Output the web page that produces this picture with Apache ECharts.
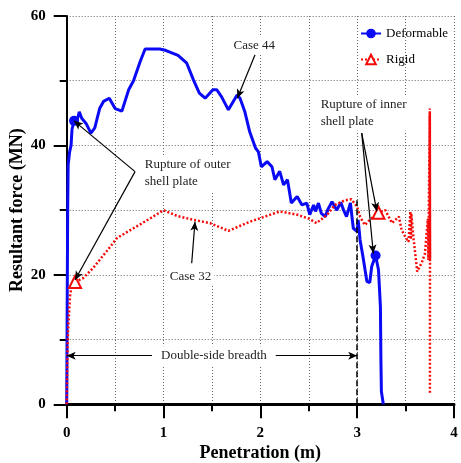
<!DOCTYPE html>
<html>
<head>
<meta charset="utf-8">
<script src="https://cdn.jsdelivr.net/npm/echarts@6/dist/echarts.min.js"></script>
<style>html,body{margin:0;padding:0;background:#fff;}#c{width:461px;height:463px;}</style>
</head>
<body>
<div id="c"></div>
<script>
// ---- data (penetration m, resultant force MN) ----
var deformable = [
[0,0],[0.005,15],[0.01,30],[0.015,37],[0.03,39],[0.045,40],[0.055,42.5],[0.076,43.8],[0.1,43.5],[0.13,45.2],[0.155,44.2],[0.2,43.4],[0.25,41.9],[0.29,42.7],[0.34,45.7],[0.38,46.8],[0.44,47.3],[0.5,45.7],[0.57,45.3],[0.64,48.6],[0.69,50.0],[0.76,53.0],[0.81,54.9],[0.96,54.9],[1.02,54.7],[1.15,53.9],[1.24,52.7],[1.31,50.1],[1.37,48.1],[1.43,47.3],[1.51,48.6],[1.55,48.6],[1.60,47.5],[1.67,45.5],[1.76,47.8],[1.79,47.3],[1.84,45.2],[1.89,42.1],[1.95,39.6],[1.98,39.0],[2.01,36.7],[2.07,37.5],[2.12,36.7],[2.15,34.7],[2.20,36.0],[2.24,33.9],[2.28,34.7],[2.32,31.1],[2.38,32.1],[2.43,30.8],[2.48,31.1],[2.51,29.3],[2.55,30.8],[2.57,29.8],[2.60,31.1],[2.63,29.5],[2.67,29.0],[2.70,30.2],[2.74,31.3],[2.79,30.0],[2.83,31.2],[2.86,30.0],[2.89,29.0],[2.93,31.1],[2.96,27.2],[3.0,26.7],[3.01,28.5],[3.03,25.4],[3.06,22.8],[3.10,19.0],[3.13,18.8],[3.15,21.3],[3.19,23.0],[3.22,20.8],[3.24,15.1],[3.245,7],[3.25,2],[3.27,0]
];
var deformableMarkers = [7, 72]; // indices of rupture points
var rigid = [
[0,0],[0.005,5],[0.01,9.7],[0.02,13],[0.034,16.6],[0.05,18.4],[0.086,18.9],[0.17,19.5],[0.27,21.0],[0.41,23.6],[0.52,25.7],[0.69,27.2],[0.86,28.7],[1.0,30.0],[1.14,29.1],[1.31,28.5],[1.48,28.0],[1.67,26.8],[1.89,28.2],[2.20,29.8],[2.38,29.3],[2.50,28.7],[2.58,28.0],[2.69,29.3],[2.77,30.8],[2.87,31.5],[2.94,31.7],[3.0,30.5],[3.03,29.0],[3.08,27.7],[3.13,28.5],[3.22,29.6],[3.29,30.0],[3.36,28.0],[3.43,29.0],[3.46,26.9],[3.50,25.8],[3.53,25.1],[3.55,29.8],[3.555,25.5],[3.56,29.4],[3.58,25.9],[3.62,20.5],[3.67,22.0],[3.70,23.3],[3.73,28.7],[3.735,22.3],[3.75,45.7],[3.752,22],[3.748,44.5],[3.753,22.5],[3.749,43],[3.751,22],[3.75,45],[3.752,23],[3.749,40],[3.751,22.2],[3.7505,44],[3.752,22],[3.751,1.7]
];
var rigidMarkers = [6, 31];
var xTicks = [0, 1, 2, 3, 4];
var yTicks = [0, 20, 40, 60];
var legendNames = ['Deformable', 'Rigid'];

// annotations in data coordinates
var annoTexts = [
  {text: 'Case 44', x: 1.938, y: 55.5, align: 'center'},
  {text: 'Rupture of inner\nshell plate', x: 2.592, y: 45.0, align: 'left'},
  {text: 'Rupture of outer\nshell plate', x: 0.775, y: 35.7, align: 'left'},
  {text: 'Case 32', x: 1.279, y: 19.72, align: 'center'},
  {text: 'Double-side breadth', x: 1.52, y: 7.51, align: 'center'}
];
var annoArrows = [
  [[1.945, 54.0], [1.762, 47.3]],
  [[3.047, 41.9], [3.203, 29.8]],
  [[3.047, 41.9], [3.167, 23.3]],
  [[0.706, 35.95], [0.075, 43.8]],
  [[0.706, 35.95], [0.086, 19.2]],
  [[1.291, 21.8], [1.325, 28.2]],
  [[0.881, 7.51], [0.0, 7.51]],
  [[2.159, 7.51], [3.0, 7.51]]
];
var breadthLine = [[3.0, 0], [3.0, 32]];

function withMarkers(arr, idx) {
  return arr.map(function (p, i) {
    return idx.indexOf(i) >= 0 ? {value: p} : {value: p, symbol: 'none'};
  });
}

var FONT = 'Liberation Serif, Times New Roman, serif';
var chart = echarts.init(document.getElementById('c'), null, {renderer: 'canvas'});
var gridLine = {show: true, lineStyle: {color: '#666', type: [1, 2], width: 1}};

var option = {
  animation: false,
  backgroundColor: '#fff',
  grid: {left: 66.7, right: 7, top: 16, bottom: 58.7, containLabel: false, outerBoundsMode: 'none'},
  legend: {
    orient: 'vertical', left: 355, top: 22,
    itemWidth: 20, itemHeight: 12, itemGap: 13,
    textStyle: {fontFamily: FONT, fontSize: 13, color: '#000'},
    data: legendNames
  },
  xAxis: {
    type: 'value', min: xTicks[0], max: xTicks[xTicks.length - 1], interval: 1,
    name: 'Penetration (m)', nameLocation: 'middle', nameGap: 40, nameMoveOverlap: false,
    nameTextStyle: {fontFamily: FONT, fontWeight: 'bold', fontSize: 18, color: '#000'},
    axisLine: {show: true, onZero: false, lineStyle: {color: '#000', width: 3}},
    axisTick: {show: true, inside: false, length: 14, lineStyle: {color: '#000', width: 2}},
    minorTick: {show: true, splitNumber: 2, length: 7, lineStyle: {color: '#000', width: 2}},
    splitLine: gridLine,
    minorSplitLine: gridLine,
    axisLabel: {fontFamily: FONT, fontWeight: 'bold', fontSize: 15, color: '#000', margin: 21}
  },
  yAxis: {
    type: 'value', min: yTicks[0], max: yTicks[yTicks.length - 1], interval: 20,
    name: 'Resultant force (MN)', nameLocation: 'middle', nameGap: 40, nameRotate: 90, nameMoveOverlap: false,
    nameTextStyle: {fontFamily: FONT, fontWeight: 'bold', fontSize: 18, color: '#000'},
    axisLine: {show: true, onZero: false, lineStyle: {color: '#000', width: 2}},
    axisTick: {show: true, inside: false, length: 13, lineStyle: {color: '#000', width: 2}},
    minorTick: {show: true, splitNumber: 2, length: 7, lineStyle: {color: '#000', width: 2}},
    splitLine: gridLine,
    minorSplitLine: gridLine,
    axisLabel: {fontFamily: FONT, fontWeight: 'bold', fontSize: 15, color: '#000', margin: 21}
  },
  series: [
    {
      name: legendNames[0], type: 'line', data: withMarkers(deformable, deformableMarkers),
      symbol: 'circle', symbolSize: 10, showSymbol: true, showAllSymbol: true,
      lineStyle: {color: '#0a0af5', width: 3}, itemStyle: {color: '#0a0af5'},
      z: 3
    },
    {
      name: legendNames[1], type: 'line', data: withMarkers(rigid, rigidMarkers),
      symbol: 'emptyTriangle', symbolSize: 12, showSymbol: true, showAllSymbol: true,
      lineStyle: {color: '#f50a0a', width: 2.5, type: [2, 2]},
      itemStyle: {color: '#f50a0a', borderColor: '#f50a0a', borderWidth: 2},
      z: 4
    },
    {
      name: 'annotations', type: 'line', data: [], silent: true, z: 5,
      markLine: {
        silent: true, animation: false,
        symbol: ['none', 'arrow'], symbolSize: [6, 9],
        label: {show: false},
        lineStyle: {color: '#000', width: 1.2, type: 'solid'},
        data: annoArrows.map(function (a) {
          return [{coord: a[0]}, {coord: a[1]}];
        }).concat([[
          {coord: breadthLine[0], symbol: 'none', lineStyle: {type: [6, 3], width: 1.5, color: '#000'}},
          {coord: breadthLine[1], symbol: 'none'}
        ]])
      }
    }
  ]
};
chart.setOption(option);

var graphics = annoTexts.map(function (a) {
  var p = chart.convertToPixel({gridIndex: 0}, [a.x, a.y]);
  return {
    type: 'text', x: p[0], y: p[1], z: 100,
    style: {
      text: a.text, font: '13px ' + FONT, fill: '#222',
      align: a.align, verticalAlign: 'middle', lineHeight: 16.7,
      backgroundColor: '#fff', padding: [1, 3]
    }
  };
});
chart.setOption({graphic: graphics});
</script>
</body>
</html>
